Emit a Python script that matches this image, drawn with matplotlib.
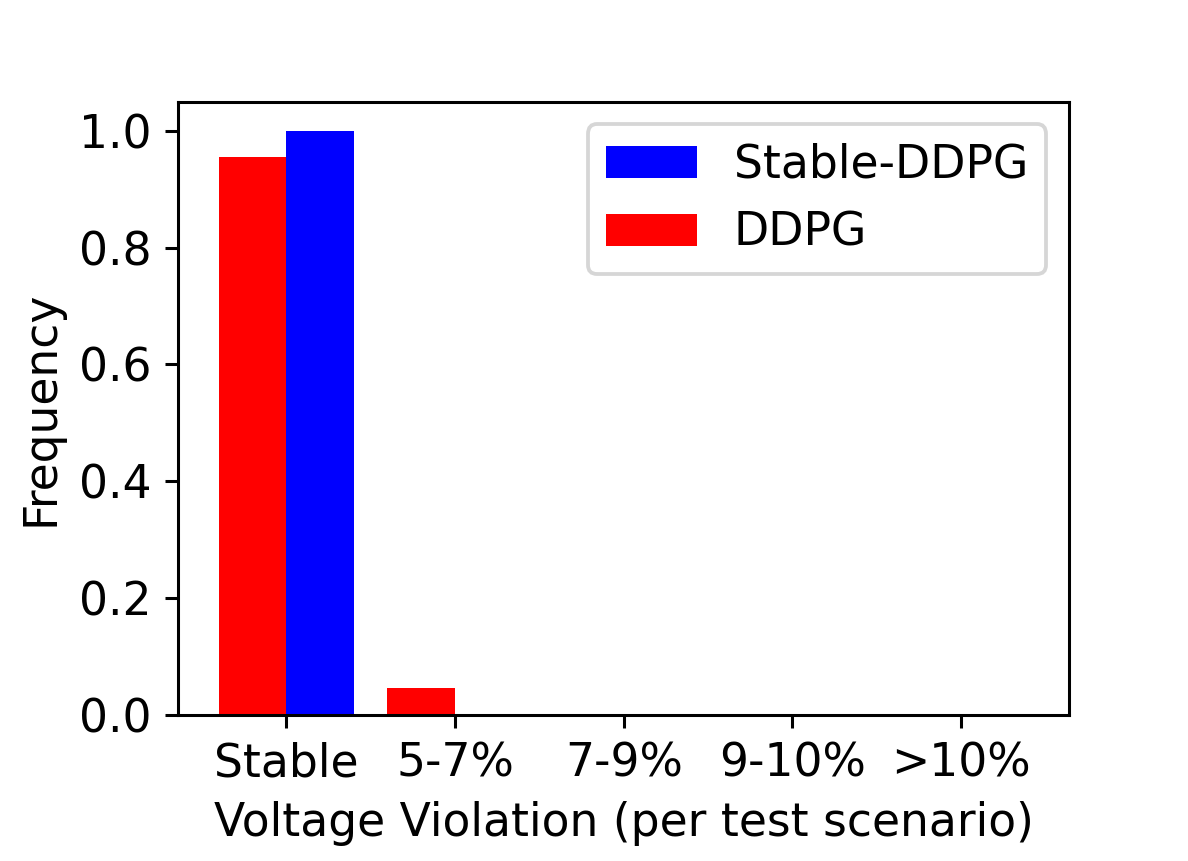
import numpy as np
import matplotlib
matplotlib.use("Agg")
import matplotlib.pyplot as plt

# --- Données ---
categories = ["Stable", "5-7%", "7-9%", "9-10%", ">10%"]
stable_ddpg = [1.0, 0.0, 0.0, 0.0, 0.0]
ddpg = [0.955, 0.045, 0.0, 0.0, 0.0]

plt.rcParams["font.size"] = 12

fig, ax = plt.subplots(figsize=(1188 / 274, 861 / 274), dpi=274)
fig.subplots_adjust(left=0.15, right=0.90, top=0.882, bottom=0.17)

x = np.arange(len(categories))
width = 0.4
ax.bar(x, stable_ddpg, width, align="edge", color="blue", label="Stable-DDPG")
ax.bar(x, ddpg, -width, align="edge", color="red", label="DDPG")

ax.set_xticks(x)
ax.set_xticklabels(categories)
ax.set_xlabel("Voltage Violation (per test scenario)")
ax.set_ylabel("Frequency")
ax.legend(loc="upper right")

fig.savefig("out.png", dpi=274)
